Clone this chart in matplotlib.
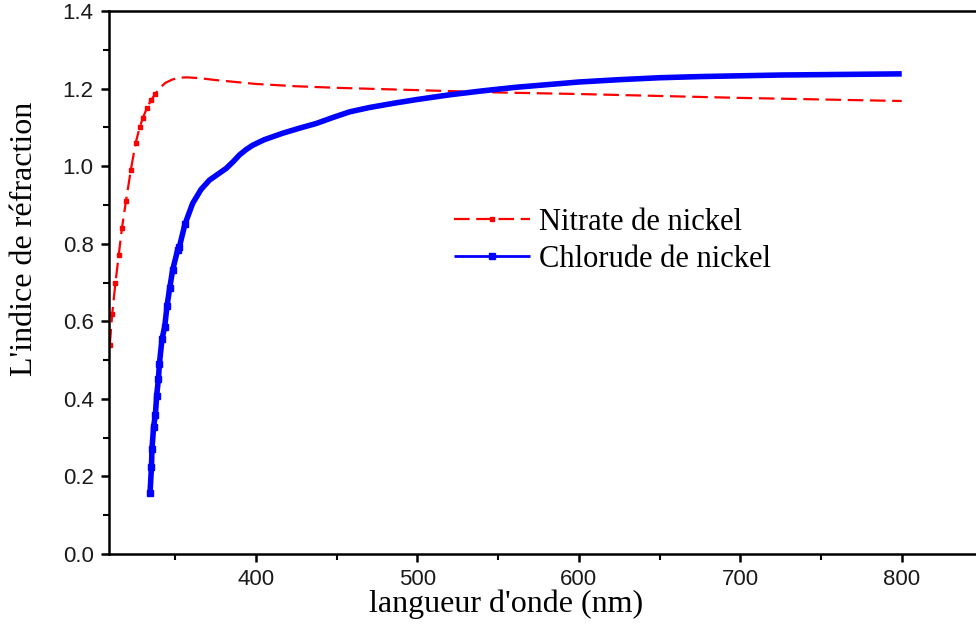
import matplotlib
matplotlib.use("Agg")
import matplotlib.pyplot as plt
from matplotlib.ticker import MultipleLocator

wl_nitrate = [309.5, 311, 313, 315, 317, 319.5, 322.5, 325.5, 328, 330, 332.5, 335, 337.5, 340,
              344, 348, 352, 357, 365, 375, 385, 400, 425, 450, 475, 500, 525, 550, 575, 600,
              650, 700, 750, 800]
n_nitrate = [0.54, 0.62, 0.70, 0.77, 0.84, 0.91, 0.99, 1.06, 1.10, 1.125, 1.15, 1.17, 1.185, 1.20,
             1.215, 1.223, 1.228, 1.229, 1.227, 1.222, 1.218, 1.212, 1.206, 1.202, 1.199, 1.196,
             1.193, 1.19, 1.188, 1.186, 1.181, 1.176, 1.172, 1.168]

wl_chlorure = [334.4, 335.3, 335.6, 336.6, 337.7, 338.5, 339.6, 340.2, 341.8, 343.5, 344.9, 346.6,
               348.4, 351.5, 352.6, 356, 360.8, 366, 371.2, 376, 381.5, 386, 389.8, 394, 398, 405,
               416.6, 427, 437.3, 448, 458, 470, 485, 500, 520, 540, 560, 580, 600, 625, 650, 675,
               700, 725, 750, 775, 800]
n_chlorure = [0.157, 0.225, 0.27, 0.328, 0.358, 0.408, 0.451, 0.49, 0.554, 0.586, 0.639, 0.686,
              0.732, 0.784, 0.792, 0.85, 0.904, 0.94, 0.964, 0.978, 0.994, 1.012, 1.029, 1.043,
              1.054, 1.068, 1.085, 1.098, 1.11, 1.126, 1.14, 1.151, 1.162, 1.172, 1.184, 1.194,
              1.203, 1.21, 1.217, 1.223, 1.228, 1.231, 1.233, 1.235, 1.236, 1.237, 1.238]

labels = ["Nitrate de nickel", "Chlorude de nickel"]

fig = plt.figure(figsize=(9.76, 6.34), dpi=100)
ax = fig.add_axes([0.1117, 0.1262, 0.8883, 0.8564])

ax.plot(wl_nitrate, n_nitrate, color="#ff0000", lw=1.6, linestyle=(0, (7, 3)),
        marker="s", markersize=2.5, markevery=slice(0, 13), label=labels[0])
ax.plot(wl_chlorure, n_chlorure, color="#0000ff", lw=4.0, marker="s", markersize=5,
        markevery=slice(0, 16), solid_capstyle="butt", label=labels[1])

ax.set_xlim(309, 846)
ax.set_ylim(0.0, 1.4)
ax.xaxis.set_major_locator(MultipleLocator(100))
ax.xaxis.set_minor_locator(MultipleLocator(50))
ax.yaxis.set_major_locator(MultipleLocator(0.2))
ax.yaxis.set_minor_locator(MultipleLocator(0.1))
ax.yaxis.set_major_formatter(plt.FuncFormatter(lambda v, p: f"{v:.1f}"))

for s in ["left", "bottom", "top"]:
    ax.spines[s].set_linewidth(1.8)
ax.spines["right"].set_visible(False)
ax.tick_params(which="major", direction="out", length=6, width=1.8, labelsize=16, pad=5)
ax.tick_params(which="minor", direction="out", length=4, width=1.5)
ax.tick_params(top=False, right=False)
for lab in ax.get_xticklabels() + ax.get_yticklabels():
    lab.set_family("Liberation Sans")
    lab.set_color("#1a1a1a")

ax.set_xlabel("langueur d'onde (nm)", family="Liberation Serif", fontsize=23)
ax.xaxis.set_label_coords(0.4585, -0.066)
ax.set_ylabel("L'indice de réfraction", family="Liberation Serif", fontsize=23)
ax.yaxis.set_label_coords(-0.081, 0.58)

leg = ax.legend(loc="upper left", bbox_to_anchor=(0.366, 0.688), frameon=False,
                prop={"family": "Liberation Serif", "size": 22}, handlelength=2.5,
                handletextpad=0.3, labelspacing=0.25)
leg.get_lines()[1].set_linewidth(2)

fig.savefig("out.png", dpi=100)
